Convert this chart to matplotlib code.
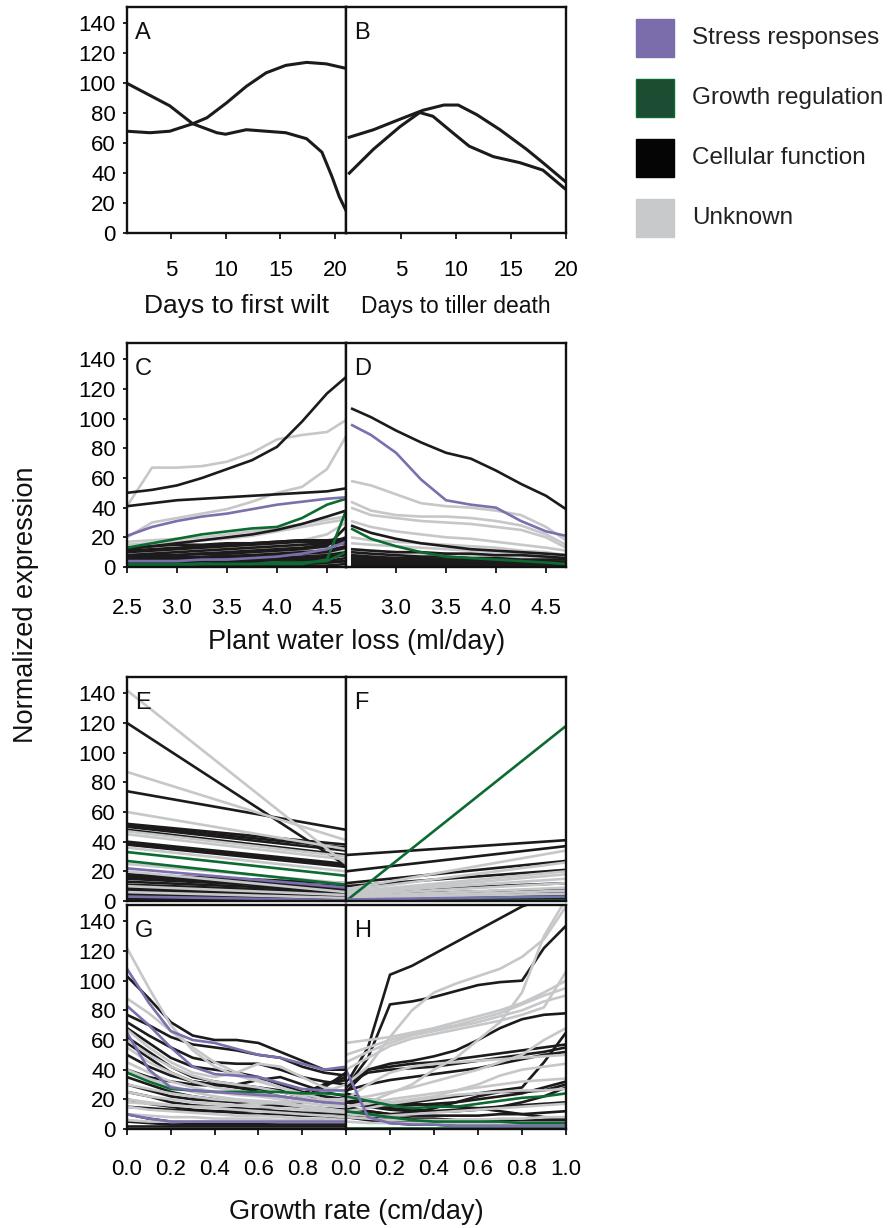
import matplotlib
matplotlib.use("Agg")
import matplotlib.pyplot as plt
from matplotlib.patches import Rectangle

plt.rcParams['font.family'] = ['Liberation Sans', 'DejaVu Sans']

# ---------------- colours / categories ----------------
categories = ["Stress responses", "Growth regulation", "Cellular function", "Unknown"]
cat_colors = {"purple": "#7b6fae", "green": "#0b6b30", "black": "#1c1a1b", "gray": "#c6c7c9"}
legend_face = ["#7b6dab", "#1c4d32", "#050505", "#c8c9cb"]
legend_edge = ["#7b6dab", "#0a6a2f", "#050505", "#c8c9cb"]

# ---------------- Panel A: days to first wilt ----------------
A_x1 = [1, 4.9, 7, 9.2, 10, 11.9, 13.7, 15.5, 17.4, 18.8, 19.7, 20.4, 21]
A_y1 = [100, 85, 73, 67, 66, 69, 68, 67, 63, 54, 38, 24, 15]
A_x2 = [1, 3.1, 4.9, 7, 8.3, 10.1, 11.9, 13.7, 15.5, 17.4, 19.2, 21]
A_y2 = [68, 67, 68, 73, 77, 87, 98, 107, 112, 114, 113, 110]

# ---------------- Panel B: days to tiller death ----------------
B_x1 = [0.3, 2.5, 4.9, 7, 8.9, 10.2, 11.9, 14, 16.4, 17.9, 20]
B_y1 = [64, 69, 76, 82, 85.5, 85.5, 79, 69, 56, 47, 34]
B_x2 = [0.3, 2.5, 4.9, 6.7, 7.9, 9.7, 11.2, 13.4, 15.8, 17.9, 20]
B_y2 = [40, 56, 71, 80.5, 78, 67, 58, 51, 47, 42, 29]

# ---------------- Panel C: plant water loss ----------------
C_x = [2.5, 2.75, 3.0, 3.25, 3.5, 3.75, 4.0, 4.25, 4.5, 4.69]
C_black = [
    [50, 52, 55, 60, 66, 72, 81, 98, 117, 128],
    [41, 43, 45, 46, 47, 48, 49, 50, 51, 53],
    [12, 14, 16, 18, 20, 22, 25, 29, 34, 38],
    [13, 14, 15, 15, 16, 16, 17, 18, 18, 18],
    [11, 12, 13, 14, 15, 16, 17, 18, 18, 19],
    [10, 11, 12, 13, 14, 15, 16, 17, 17, 17],
    [8, 9, 10, 11, 12, 13, 14, 15, 16, 16],
    [7, 8, 8, 9, 10, 11, 12, 13, 15, 20],
    [6, 7, 8, 9, 9, 10, 11, 12, 14, 27],
    [5, 5, 6, 6, 7, 7, 8, 9, 10, 13],
    [4, 4, 5, 5, 5, 6, 6, 7, 8, 10],
    [3, 3, 3, 4, 4, 4, 5, 5, 6, 8],
    [2, 2, 2, 2, 3, 3, 3, 4, 4, 6],
    [1, 1, 1, 1, 1, 2, 2, 2, 3, 4],
    [0.5, 0.5, 0.5, 0.5, 0.5, 0.5, 1, 1, 1, 2],
    [1.5, 1.5, 1.5, 2, 2, 2, 2.5, 3, 3, 4],
    [3.5, 3.5, 4, 4, 4.5, 5, 5, 6, 7, 9],
    [6, 6, 6.5, 7, 7.5, 8, 9, 10, 11, 14],
]
C_gray = [
    [41, 67, 67, 68, 71, 77, 86, 89, 91, 99],
    [20, 30, 33, 36, 39, 44, 50, 54, 66, 88],
    [17, 18, 19, 20, 22, 24, 26, 29, 32, 34],
    [15, 16, 17, 18, 19, 21, 24, 27, 30, 32],
    [10, 11, 12, 12, 13, 13, 14, 15, 15, 16],
    [9, 10, 11, 12, 13, 14, 16, 18, 22, 30],
    [7, 8, 9, 10, 11, 12, 13, 15, 17, 20],
    [5, 6, 6, 7, 8, 9, 10, 11, 13, 15],
    [4, 4, 5, 5, 6, 6, 7, 8, 9, 12],
    [2, 3, 3, 3, 4, 4, 5, 6, 7, 9],
]
C_green = [
    [13, 16, 19, 22, 24, 26, 27, 33, 42, 46],
    [1, 1, 1, 2, 2, 2, 3, 3, 4, 10],
    [2, 2, 2, 2, 2, 2, 2, 2, 5, 38],
]
C_purple = [
    [21, 27, 31, 34, 36, 39, 42, 44, 46, 47],
    [4, 4, 4, 5, 5, 6, 7, 9, 12, 17],
]

# ---------------- Panel D ----------------
D_x = [2.55, 2.75, 3.0, 3.25, 3.5, 3.75, 4.0, 4.25, 4.5, 4.7]
D_black = [
    [107, 101, 92, 84, 77, 73, 65, 56, 48, 39],
    [28, 23, 19, 16, 14, 12, 11, 10, 9, 8],
    [12, 11, 10, 10, 9, 9, 8, 8, 7, 6],
    [10, 9, 8, 7, 7, 6, 6, 5, 5, 5],
    [8, 7, 6, 6, 5, 5, 4, 4, 4, 3],
    [7, 6, 6, 5, 5, 4.5, 4, 4, 3.5, 3],
    [6, 5, 5, 4, 4, 3, 3, 3, 2, 2],
    [5, 4.5, 4, 4, 3.5, 3, 3, 2.5, 2.5, 2],
    [4, 4, 3, 3, 3, 2, 2, 2, 2, 1],
    [3, 3, 2, 2, 2, 2, 1, 1, 1, 1],
    [2, 2, 1, 1, 1, 1, 1, 1, 0.5, 0.5],
    [1, 1, 1, 0.5, 0.5, 0.5, 0.5, 0.5, 0.5, 0.5],
]
D_gray = [
    [58, 55, 49, 43, 41, 40, 38, 35, 27, 18],
    [44, 38, 35, 34, 34, 33, 31, 28, 22, 15],
    [40, 35, 33, 31, 30, 29, 27, 25, 20, 13],
    [31, 27, 24, 22, 20, 19, 17, 15, 13, 11],
    [20, 18, 17, 16, 15, 14, 13, 11, 10, 8],
    [16, 15, 14, 13, 12, 11, 10, 9, 8, 7],
    [12, 11, 10, 9, 9, 8, 7, 7, 6, 5],
    [8, 8, 7, 7, 6, 6, 5, 5, 5, 4],
]
D_green = [
    [26, 19, 14, 10, 7, 6, 5, 4, 3, 2],
]
D_purple = [
    [96, 89, 77, 59, 45, 42, 40, 31, 24, 21],
]

# ---------------- Panel E / F (two growth states) ----------------
EF_x = [0, 1]
E_black = [[120, 24], [74, 48], [52, 38], [51, 36], [50, 34], [48, 31], [40, 25],
           [39, 24], [38, 23], [18, 12], [17, 10], [16, 9], [15, 8], [13, 7], [11, 6],
           [10, 5], [9, 5], [8, 4], [7, 4], [6, 3], [5, 3], [4, 2], [3, 2], [2, 1],
           [1, 1], [0.5, 0.5]]
E_gray = [[142, 25], [87, 41], [60, 35], [47, 30], [45, 28], [36, 20], [25, 12],
          [20, 6], [10, 4], [6, 2]]
E_green = [[33, 17], [27, 11]]
E_purple = [[22, 9], [3, 0.5]]

F_black = [[31, 41], [20, 37], [12, 27], [10, 21], [6, 12], [4, 8], [3, 6], [2, 4],
           [1, 2], [0.5, 1]]
F_gray = [[8, 34], [7, 26], [6, 20], [5, 18], [5, 15], [4, 12], [3, 9], [2, 7], [2, 5]]
F_green = [[0, 118], [0, 0.5]]
F_purple = [[1, 3]]

# ---------------- Panel G / H: growth rate ----------------
GH_x = [0, 0.1, 0.2, 0.3, 0.4, 0.5, 0.6, 0.7, 0.8, 0.9, 1.0]
G_black = [
    [103, 88, 72, 63, 60, 60, 58, 52, 46, 40, 40],
    [77, 70, 62, 57, 55, 53, 50, 48, 42, 38, 36],
    [72, 63, 55, 48, 45, 44, 44, 40, 35, 32, 30],
    [68, 58, 48, 42, 40, 38, 35, 30, 25, 22, 20],
    [62, 52, 42, 35, 32, 30, 28, 26, 24, 30, 33],
    [58, 48, 38, 32, 30, 28, 27, 25, 22, 20, 18],
    [50, 42, 36, 32, 30, 28, 25, 22, 20, 18, 17],
    [40, 35, 32, 30, 29, 30, 33, 35, 30, 25, 22],
    [35, 30, 25, 22, 20, 18, 17, 16, 18, 28, 38],
    [30, 26, 22, 20, 19, 18, 17, 16, 15, 14, 13],
    [25, 22, 18, 16, 15, 14, 13, 12, 11, 11, 10],
    [20, 17, 15, 13, 12, 11, 10, 10, 9, 9, 8],
    [15, 14, 13, 12, 12, 12, 13, 15, 20, 30, 35],
    [10, 7, 5, 4, 4, 4, 4, 5, 6, 7, 8],
    [5, 4, 3, 3, 3, 3, 3, 3, 3, 3, 3],
    [2, 2, 2, 2, 2, 2, 2, 2, 2, 2, 2],
]
G_gray = [
    [122, 95, 70, 53, 42, 36, 32, 28, 22, 18, 15],
    [88, 78, 66, 55, 45, 38, 33, 28, 24, 20, 18],
    [67, 55, 45, 38, 35, 38, 44, 42, 35, 28, 25],
    [60, 50, 42, 36, 32, 30, 28, 25, 22, 25, 30],
    [55, 45, 38, 32, 28, 26, 24, 22, 20, 18, 17],
    [45, 38, 32, 28, 25, 23, 22, 20, 18, 16, 15],
    [40, 34, 29, 25, 22, 20, 19, 18, 16, 14, 12],
    [30, 27, 24, 22, 20, 19, 18, 17, 15, 13, 12],
    [25, 22, 20, 18, 17, 16, 15, 14, 13, 12, 11],
    [20, 18, 16, 15, 14, 13, 12, 11, 10, 9, 8],
    [18, 17, 16, 15, 15, 16, 17, 18, 19, 20, 20],
    [15, 13, 12, 11, 10, 9, 9, 8, 7, 7, 6],
    [10, 9, 8, 8, 7, 7, 7, 6, 6, 5, 5],
    [6, 5, 5, 5, 5, 5, 5, 5, 5, 5, 5],
]
G_green = [
    [38, 32, 27, 26, 25, 25, 25, 25, 24, 24, 23],
]
G_purple = [
    [108, 85, 66, 60, 58, 54, 50, 48, 44, 40, 42],
    [83, 70, 55, 42, 37, 36, 35, 31, 27, 26, 26],
    [65, 40, 28, 26, 25, 24, 23, 22, 20, 18, 17],
    [10, 7, 5, 5, 5, 5, 5, 5, 5, 5, 5],
]
H_black = [
    [30, 55, 104, 110, 118, 126, 134, 142, 150, 155, 158],
    [28, 48, 84, 86, 89, 93, 97, 99, 100, 122, 137],
    [25, 40, 44, 46, 49, 53, 60, 68, 74, 77, 78],
    [28, 40, 42, 44, 45, 47, 49, 51, 53, 55, 57],
    [30, 38, 40, 41, 42, 44, 46, 48, 50, 52, 55],
    [26, 30, 33, 35, 37, 39, 41, 44, 47, 50, 52],
    [22, 18, 16, 18, 20, 22, 24, 26, 28, 45, 65],
    [24, 20, 18, 17, 16, 15, 14, 12, 10, 8, 7],
    [20, 17, 16, 16, 17, 18, 20, 22, 24, 28, 32],
    [19, 16, 14, 13, 12, 12, 13, 15, 18, 22, 28],
    [18, 15, 13, 12, 12, 13, 14, 15, 16, 17, 18],
    [14, 12, 10, 11, 14, 18, 22, 25, 25, 26, 30],
    [15, 12, 10, 9, 9, 9, 9, 10, 10, 11, 12],
    [12, 10, 8, 7, 7, 6, 6, 6, 6, 6, 6],
    [10, 8, 6, 5, 4, 4, 4, 4, 4, 4, 4],
    [8, 6, 4, 3, 3, 2, 2, 2, 2, 2, 2],
]
H_gray = [
    [15, 18, 24, 30, 40, 48, 60, 72, 92, 130, 155],
    [30, 42, 62, 80, 92, 98, 103, 108, 116, 128, 150],
    [58, 60, 62, 65, 68, 72, 76, 80, 85, 92, 100],
    [50, 55, 60, 64, 67, 70, 74, 78, 84, 90, 95],
    [45, 52, 58, 63, 66, 69, 72, 76, 80, 86, 90],
    [40, 48, 56, 61, 64, 67, 70, 73, 77, 82, 106],
    [20, 30, 38, 42, 44, 45, 46, 47, 48, 49, 50],
    [20, 22, 25, 28, 32, 36, 40, 45, 50, 60, 68],
    [22, 20, 18, 20, 22, 26, 30, 36, 40, 42, 44],
    [15, 17, 20, 22, 24, 26, 28, 30, 32, 33, 34],
    [12, 14, 17, 19, 21, 23, 24, 25, 26, 26, 27],
    [10, 9, 9, 10, 11, 12, 13, 14, 15, 16, 17],
    [8, 7, 6, 6, 6, 6, 6, 7, 7, 8, 8],
    [5, 4, 4, 4, 4, 4, 4, 4, 4, 4, 4],
]
H_green = [
    [22, 19, 16, 14, 15, 15, 17, 19, 21, 22, 24],
    [12, 10, 8, 6, 5, 5, 5, 5, 4, 4, 4],
    [1, 1, 1, 1, 1, 1, 1, 1, 1, 1, 1],
]
H_purple = [
    [40, 8, 4, 3, 3, 2, 2, 2, 2, 2, 2],
]

# ---------------- axis ticks / labels ----------------
y_ticks = [0, 20, 40, 60, 80, 100, 120, 140]
A_ticks = [5, 10, 15, 20]
B_ticks = [5, 10, 15, 20]
C_ticks = [2.5, 3.0, 3.5, 4.0, 4.5]
D_ticks = [3.0, 3.5, 4.0, 4.5]
G_ticks = [0.0, 0.2, 0.4, 0.6, 0.8]
H_ticks = [0.0, 0.2, 0.4, 0.6, 0.8, 1.0]

# ---------------- figure ----------------
W, H = 890, 1228
fig = plt.figure(figsize=(W / 100, H / 100), dpi=100)

def add_ax(x0, x1, ytop, ybot):
    return fig.add_axes([x0 / W, 1 - ybot / H, (x1 - x0) / W, (ybot - ytop) / H])

XL, XM, XR = 127, 346, 566
rows = {"AB": (7, 233), "CD": (343, 567), "EF": (677, 901), "GH": (905, 1129)}

LW = 1.9
TICKFS = 16

def style(ax, left, xticks, xlim, ylim=(0, 151), xfmt=None, letter="", xpad=17):
    ax.set_xlim(*xlim)
    ax.set_ylim(*ylim)
    for s in ax.spines.values():
        s.set_linewidth(1.7)
        s.set_color("#111111")
        s.set_zorder(10)
    if left:
        ax.set_yticks(y_ticks)
        ax.tick_params(axis='y', direction='out', length=3, width=1.2, pad=5,
                       labelsize=TICKFS)
    else:
        ax.set_yticks([])
    if xticks is None:
        ax.set_xticks([])
    else:
        ax.set_xticks(xticks)
        if xfmt:
            ax.set_xticklabels([xfmt.format(t) for t in xticks])
        ax.tick_params(axis='x', direction='out', length=4.5, width=1.2, pad=xpad,
                       labelsize=TICKFS)
    ax.text(0.035, 0.935, letter, transform=ax.transAxes, ha='left', va='top',
            fontsize=17, color="#111111", zorder=12)

def draw(ax, x, groups, order):
    for name in order:
        for ys in groups[name]:
            ax.plot(x, ys, color=cat_colors[name], lw=LW, solid_capstyle='butt',
                    solid_joinstyle='round')

# A / B
axA = add_ax(XL, XM, *rows["AB"])
axB = add_ax(XM, XR, *rows["AB"])
axA.plot(A_x1, A_y1, color=cat_colors["black"], lw=2.2)
axA.plot(A_x2, A_y2, color=cat_colors["black"], lw=2.2)
axB.plot(B_x1, B_y1, color=cat_colors["black"], lw=2.2)
axB.plot(B_x2, B_y2, color=cat_colors["black"], lw=2.2)
style(axA, True, A_ticks, (1, 21), letter="A", xpad=15)
style(axB, False, B_ticks, (0, 20), letter="B", xpad=15)

# C / D
axC = add_ax(XL, XM, *rows["CD"])
axD = add_ax(XM, XR, *rows["CD"])
draw(axC, C_x, {"black": C_black, "gray": C_gray, "green": C_green, "purple": C_purple},
     ["gray", "black", "green", "purple"])
draw(axD, D_x, {"black": D_black, "gray": D_gray, "green": D_green, "purple": D_purple},
     ["gray", "black", "green", "purple"])
style(axC, True, C_ticks, (2.5, 4.69), xfmt="{:.1f}", letter="C", xpad=18)
style(axD, False, D_ticks, (2.5, 4.7), xfmt="{:.1f}", letter="D", xpad=18)

# E / F
axE = add_ax(XL, XM, *rows["EF"])
axF = add_ax(XM, XR, *rows["EF"])
draw(axE, EF_x, {"black": E_black, "gray": E_gray, "green": E_green, "purple": E_purple},
     ["black", "gray", "green", "purple"])
draw(axF, EF_x, {"black": F_black, "gray": F_gray, "green": F_green, "purple": F_purple},
     ["black", "gray", "green", "purple"])
style(axE, True, None, (0, 1), letter="E")
style(axF, False, None, (0, 1), letter="F")

# G / H
axG = add_ax(XL, XM, *rows["GH"])
axH = add_ax(XM, XR, *rows["GH"])
draw(axG, GH_x, {"black": G_black, "gray": G_gray, "green": G_green, "purple": G_purple},
     ["black", "gray", "green", "purple"])
draw(axH, GH_x, {"black": H_black, "gray": H_gray, "green": H_green, "purple": H_purple},
     ["black", "gray", "green", "purple"])
style(axG, True, G_ticks, (0, 1), xfmt="{:.1f}", letter="G", xpad=17)
style(axH, False, H_ticks, (0, 1), xfmt="{:.1f}", letter="H", xpad=17)

# axis titles
def ftext(x, y, s, **kw):
    fig.text(x / W, 1 - y / H, s, ha='center', va='center', color="#111111", **kw)

ftext(237, 306, "Days to first wilt", fontsize=19)
ftext(456, 307, "Days to tiller death", fontsize=16.5)
ftext(357, 642, "Plant water loss (ml/day)", fontsize=19.5)
ftext(356, 1212, "Growth rate (cm/day)", fontsize=19.5)
ftext(26, 605, "Normalized expression", fontsize=19.5, rotation=90)

# legend (category swatches)
row_y = [38, 98, 158, 218]
for name, fc, ec, yc in zip(categories, legend_face, legend_edge, row_y):
    fig.add_artist(Rectangle(((636) / W, 1 - (yc + 19) / H), 38 / W, 38 / H,
                             transform=fig.transFigure, facecolor=fc, edgecolor=ec,
                             linewidth=1.0))
    fig.text(692 / W, 1 - yc / H, name, ha='left', va='center', fontsize=17.5,
             color="#222222")

fig.savefig("out.png", dpi=100)
